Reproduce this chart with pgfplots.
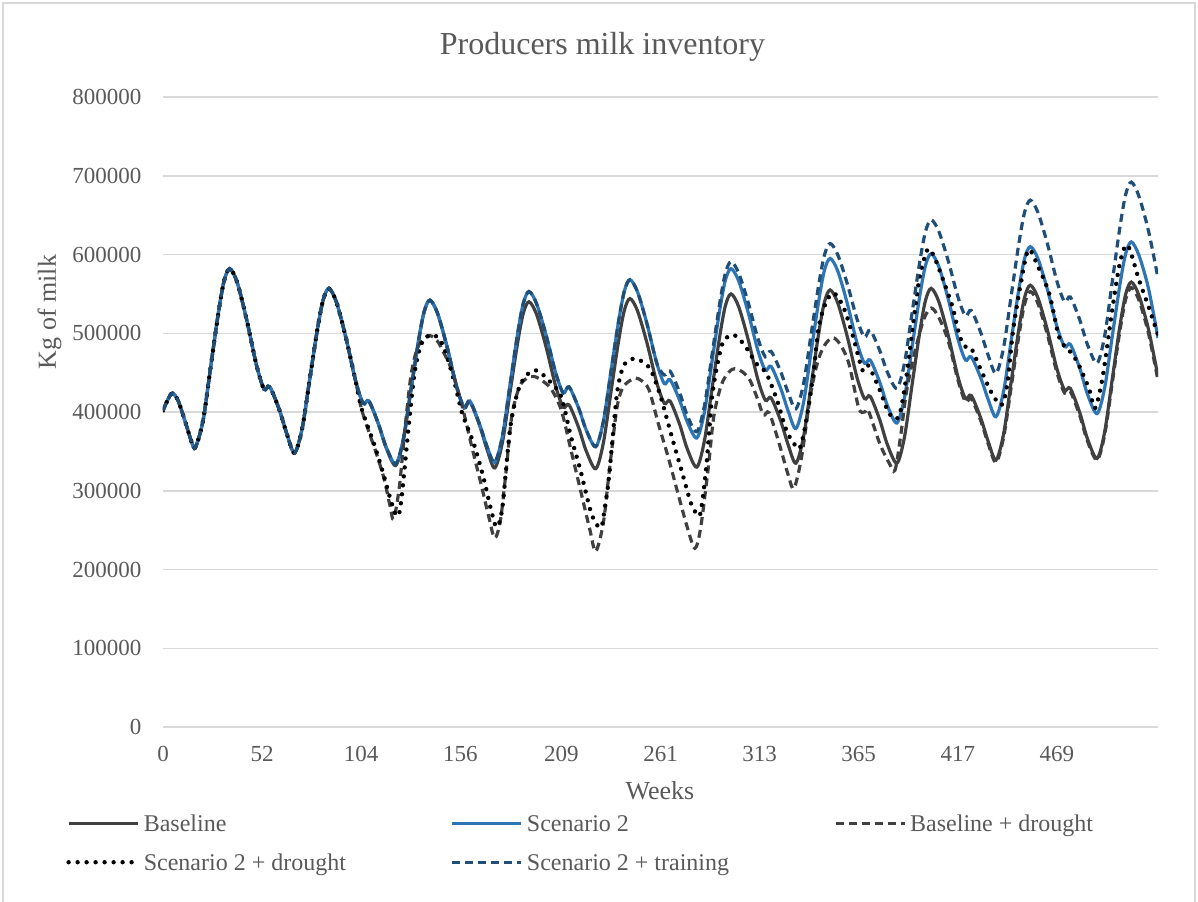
\documentclass[border=0pt]{standalone}
\usepackage{fontspec}
\setmainfont{Liberation Serif}
\usepackage{pgfplots}
\usepackage{pgfplotstable}
\pgfplotsset{compat=1.18}

\definecolor{textgray}{HTML}{595959}
\definecolor{gridgray}{HTML}{D9D9D9}
\definecolor{darkline}{HTML}{404040}
\definecolor{scenblue}{HTML}{2E75B6}
\definecolor{trainnavy}{HTML}{1F4E79}

% weekly inventory (kg of milk)
\pgfplotstableread{
w v
0 402000
3 418000
5 424000
8 414000
12 385000
15 362000
17 355000
21 389000
25 457000
29 525000
32 566000
35 582000
39 564000
44 516000
49 460000
53 429000
56 432000
61 403000
65 372000
69 348000
73 379000
77 442000
81 505000
84 542000
87 557000
91 539500
96 494000
101 440000
105 411000
108 414000
113 385000
117 355000
122 332000
126 363500
130 426500
134 489500
137 527300
140 542000
144 525600
149 483000
154 432400
158 405000
161 413000
166 383600
170 352500
174 329000
178 360650
182 423950
186 487250
189 525230
192 540000
196 523920
201 482380
206 432800
210 406000
213 409000
218 380650
222 350680
227 328000
231 360400
235 425200
239 490000
242 528900
245 544000
249 528000
254 486800
259 437600
263 411000
266 414000
271 384600
275 353500
280 330000
284 363000
288 429000
292 495000
295 534600
298 550000
302 533800
307 492000
312 442000
316 415000
319 418000
324 389000
328 358200
332 335000
336 368000
340 434000
344 500000
347 539600
350 555000
354 538400
359 495700
364 444600
368 417000
371 420000
376 390250
380 358800
385 335000
389 368300
393 434900
397 501500
400 541500
403 557000
407 540200
412 496800
417 445000
421 417000
424 421000
429 392300
433 362000
437 339000
441 372300
445 438900
449 505500
452 545500
455 561000
459 545000
464 503800
469 454600
473 428000
476 430000
481 398900
485 365900
490 341000
494 374600
498 441800
502 509000
505 549300
508 565000
512 548000
517 505000
522 445000
}\tblbase

\pgfplotstableread{
w v
0 402000
3 418000
5 424000
8 414000
12 385000
15 362000
17 355000
21 389000
25 457000
29 525000
32 566000
35 582000
39 564000
44 516000
49 460000
53 429000
56 432000
61 403000
65 372000
69 348000
73 379000
77 442000
81 505000
84 542000
87 557000
91 539500
96 494000
101 440000
105 411000
108 414000
113 385000
117 356000
122 334000
126 364500
130 427000
134 489500
137 527300
140 542000
144 525600
149 483000
154 432400
158 406000
161 414000
166 385000
170 356000
174 336000
178 368600
182 433700
186 498800
189 537800
192 553000
196 537500
201 497500
206 449800
210 424000
213 432000
218 405400
222 377300
227 356000
231 387800
235 451400
239 515000
242 553200
245 568000
249 552200
254 511200
259 462400
263 436000
266 441000
271 415100
275 387700
280 367000
284 399300
288 463800
292 528300
295 567000
298 582000
302 566500
307 526500
312 478800
316 453000
319 458000
324 430400
328 401100
332 379000
336 411400
340 476200
344 541000
347 579900
350 595000
354 579000
359 537800
364 488600
368 462000
371 466000
376 438000
380 408400
385 386000
389 418300
393 482800
397 547300
400 586000
403 601000
407 584800
412 543000
417 493000
421 466000
424 470000
429 443400
433 415300
437 394000
441 426400
445 491200
449 556000
452 594900
455 610000
459 594800
464 555400
469 508400
473 483000
476 486000
481 455200
485 422600
490 398000
494 430700
498 496100
502 561500
505 600700
508 616000
512 599000
517 557000
522 494000
}\tblscen

\pgfplotstableread{
w v
0 402000
3 418000
5 424000
8 414000
12 385000
15 362000
17 355000
21 389000
25 457000
29 525000
32 566000
35 582000
39 564000
44 516000
49 460000
53 429000
56 432000
61 403000
65 372000
69 348000
73 379000
77 442000
81 505000
84 542000
87 557000
91 539500
96 494000
101 440000
104 405000
108 375000
112 347000
116 315000
119 282000
121 264000
124 305000
127 380000
130 445000
133 478000
136 491000
140 497000
144 490000
148 472000
152 450000
157 407000
162 356000
167 307000
171 266000
174 240000
177 262000
180 325000
183 395000
187 432000
191 443000
195 445000
200 438000
204 428000
209 402000
214 352000
219 301000
224 250000
227 223000
231 259000
234 322000
238 403000
241 430000
245 440000
248 443000
251 440000
255 428000
260 384000
265 343000
270 298000
275 254000
279 227000
282 252000
286 328000
289 395000
293 435000
297 451000
300 455000
304 451000
308 440000
312 416000
315 396000
318 399000
323 362000
328 320000
331 303000
335 343000
340 426000
344 468000
348 488000
352 494000
356 483000
360 460000
365 405000
368 400000
370 402000
376 360000
381 335000
384 326000
387 370000
390 425000
394 472000
399 517000
403 532000
407 520000
412 490000
417 441000
421 413000
424 417000
429 389000
433 359000
437 336000
441 368000
445 432000
449 497000
452 537000
455 553000
459 538000
464 498000
469 450000
473 424000
476 426000
481 395000
485 363000
490 339000
494 371000
498 437000
502 503000
505 543000
508 558000
512 542000
517 500000
522 440000
}\tbldrought

\pgfplotstableread{
w v
0 402000
3 418000
5 424000
8 414000
12 385000
15 362000
17 355000
21 389000
25 457000
29 525000
32 566000
35 582000
39 564000
44 516000
49 460000
53 429000
56 432000
61 403000
65 372000
69 348000
73 379000
77 442000
81 505000
84 542000
87 557000
91 539500
96 494000
101 440000
104 406000
108 378000
112 350000
116 318000
119 292000
122 270000
124 272000
126 310000
129 385000
132 450000
135 483000
138 495000
142 498000
146 489000
149 470000
153 437000
157 398000
163 360000
168 318000
172 277000
175 254000
178 278000
182 377000
186 425000
190 445000
195 453000
199 448000
204 436000
209 419000
214 369000
219 326000
224 277000
227 259000
230 254000
232 282000
234 318000
238 420000
241 455000
244 465000
248 468000
252 463000
256 453000
261 420000
267 368000
272 326000
277 284000
280 271000
282 272000
285 330000
288 418000
291 462000
294 490000
299 498000
303 491000
307 478000
311 462000
314 456000
317 447000
322 416000
327 377000
331 360000
334 354000
337 383000
341 445000
344 508000
348 540000
352 551000
357 533000
362 496000
367 453000
370 459000
376 428000
381 398000
386 394000
390 445000
394 521000
397 572000
401 606000
404 600000
408 576000
414 535000
418 496000
421 483000
424 481000
429 454000
435 423000
440 409000
443 437000
446 504000
450 563000
454 606000
459 585000
465 550000
470 496000
474 481000
477 474000
481 457000
486 428000
489 405000
493 445000
498 530000
502 589000
506 612000
512 568000
517 534000
522 498000
}\tblscendrought

\pgfplotstableread{
w v
0 402000
3 418000
5 424000
8 414000
12 385000
15 362000
17 355000
21 389000
25 457000
29 525000
32 566000
35 582000
39 564000
44 516000
49 460000
53 429000
56 432000
61 403000
65 372000
69 348000
73 379000
77 442000
81 505000
84 542000
87 557000
91 539500
96 494000
101 440000
105 411000
108 414000
113 385000
117 356000
122 334000
126 364500
130 427000
134 489500
137 527300
140 542000
144 525600
149 483000
154 432400
158 406000
161 414000
166 385000
170 356000
174 336000
178 368600
182 433700
186 498800
189 537800
192 553000
196 537500
201 497500
206 449800
210 424000
213 432000
218 405400
222 377300
227 356000
231 387800
235 451400
239 515000
242 553200
245 568000
249 552200
254 511200
259 462400
263 447000
266 452000
271 425000
275 396000
280 375000
284 407400
288 472200
292 537000
295 575900
298 591000
302 576500
307 539000
312 494200
316 470000
319 477000
324 451500
328 424400
332 404000
336 435500
340 498500
344 561500
347 599300
350 614000
354 599700
359 562800
364 518800
368 495000
371 504000
376 478100
380 450700
385 430000
389 462100
393 526300
397 590500
400 629000
403 644000
407 629400
412 591500
417 546400
421 522000
424 529000
429 501000
433 471400
437 449000
441 482000
445 548000
449 614000
452 653600
455 669000
459 653500
464 613500
469 565800
473 540000
476 546000
481 516600
485 485500
490 462000
494 496500
498 565500
502 634500
505 675900
508 692000
512 674000
517 630000
522 570000
}\tbltrain

\newcommand{\legtext}[1]{\makebox[153.5pt][l]{#1}}

\begin{document}
\begin{tikzpicture}
\path[use as bounding box] (-81.5pt,-87pt) rectangle (517.5pt,363.5pt);
\draw[gridgray, line width=0.75pt] (-80pt,-90pt) -- (-80pt,362pt) -- (516pt,362pt) -- (516pt,-90pt);

\begin{axis}[
    at={(0pt,0pt)}, anchor=south west,
    scale only axis,
    width=497.5pt, height=315pt,
    xmin=0, xmax=522,
    ymin=0, ymax=800000,
    axis line style={draw=none},
    tick style={draw=none},
    ymajorgrids,
    grid style={gridgray, line width=0.75pt},
    xtick={0,52,104,156,209,261,313,365,417,469},
    ytick={0,100000,200000,300000,400000,500000,600000,700000,800000},
    scaled y ticks=false,
    /pgf/number format/fixed,
    /pgf/number format/1000 sep={},
    /pgf/number format/assume math mode=true,
    tick label style={font=\fontsize{11.5}{13}\selectfont, text=textgray, inner sep=0pt},
    xticklabel style={anchor=base, yshift=-17.4pt},
    yticklabel style={anchor=east, xshift=-10.6pt},
    legend columns=3,
    legend cell align=left,
    legend style={
        at={(axis description cs:-0.0975,-0.137)}, anchor=north west,
        draw=none, fill=none, inner sep=0pt,
        font=\fontsize{12}{14}\selectfont, text=textgray,
        nodes={inner sep=0pt, text height=9pt, text depth=0.5pt},
        row sep=10pt,
        /tikz/every odd column/.append style={column sep=2pt},
        /tikz/every even column/.append style={column sep=0pt}},
    legend image code/.code={\draw[#1] (0pt,0pt) -- (34.5pt,0pt);},
]
\addplot[darkline, line width=1.6pt, smooth] table {\tblbase};
\addlegendentry{\legtext{Baseline}}
\addplot[scenblue, line width=1.6pt, smooth] table {\tblscen};
\addlegendentry{\legtext{Scenario 2}}
\addplot[darkline, line width=1.6pt, smooth, dash pattern=on 4pt off 2.5pt] table {\tbldrought};
\addlegendentry{\legtext{Baseline + drought}}
\addplot[black, line width=2.2pt, smooth, line cap=round, dash pattern=on 0pt off 4.5pt] table {\tblscendrought};
\addlegendentry{\legtext{Scenario 2 + drought}}
\addplot[trainnavy, line width=1.6pt, smooth, dash pattern=on 4pt off 2.5pt] table {\tbltrain};
\addlegendentry{\legtext{Scenario 2 + training}}
\end{axis}

\node[font=\fontsize{16}{19}\selectfont, text=textgray, anchor=base] at (219.75pt,336.4pt) {Producers milk inventory};
\node[font=\fontsize{13}{15}\selectfont, text=textgray, anchor=base] at (248.5pt,-36.2pt) {Weeks};
\node[font=\fontsize{13}{15}\selectfont, text=textgray, anchor=base, rotate=90] at (-53.5pt,207.5pt) {Kg of milk};
\end{tikzpicture}
\end{document}
